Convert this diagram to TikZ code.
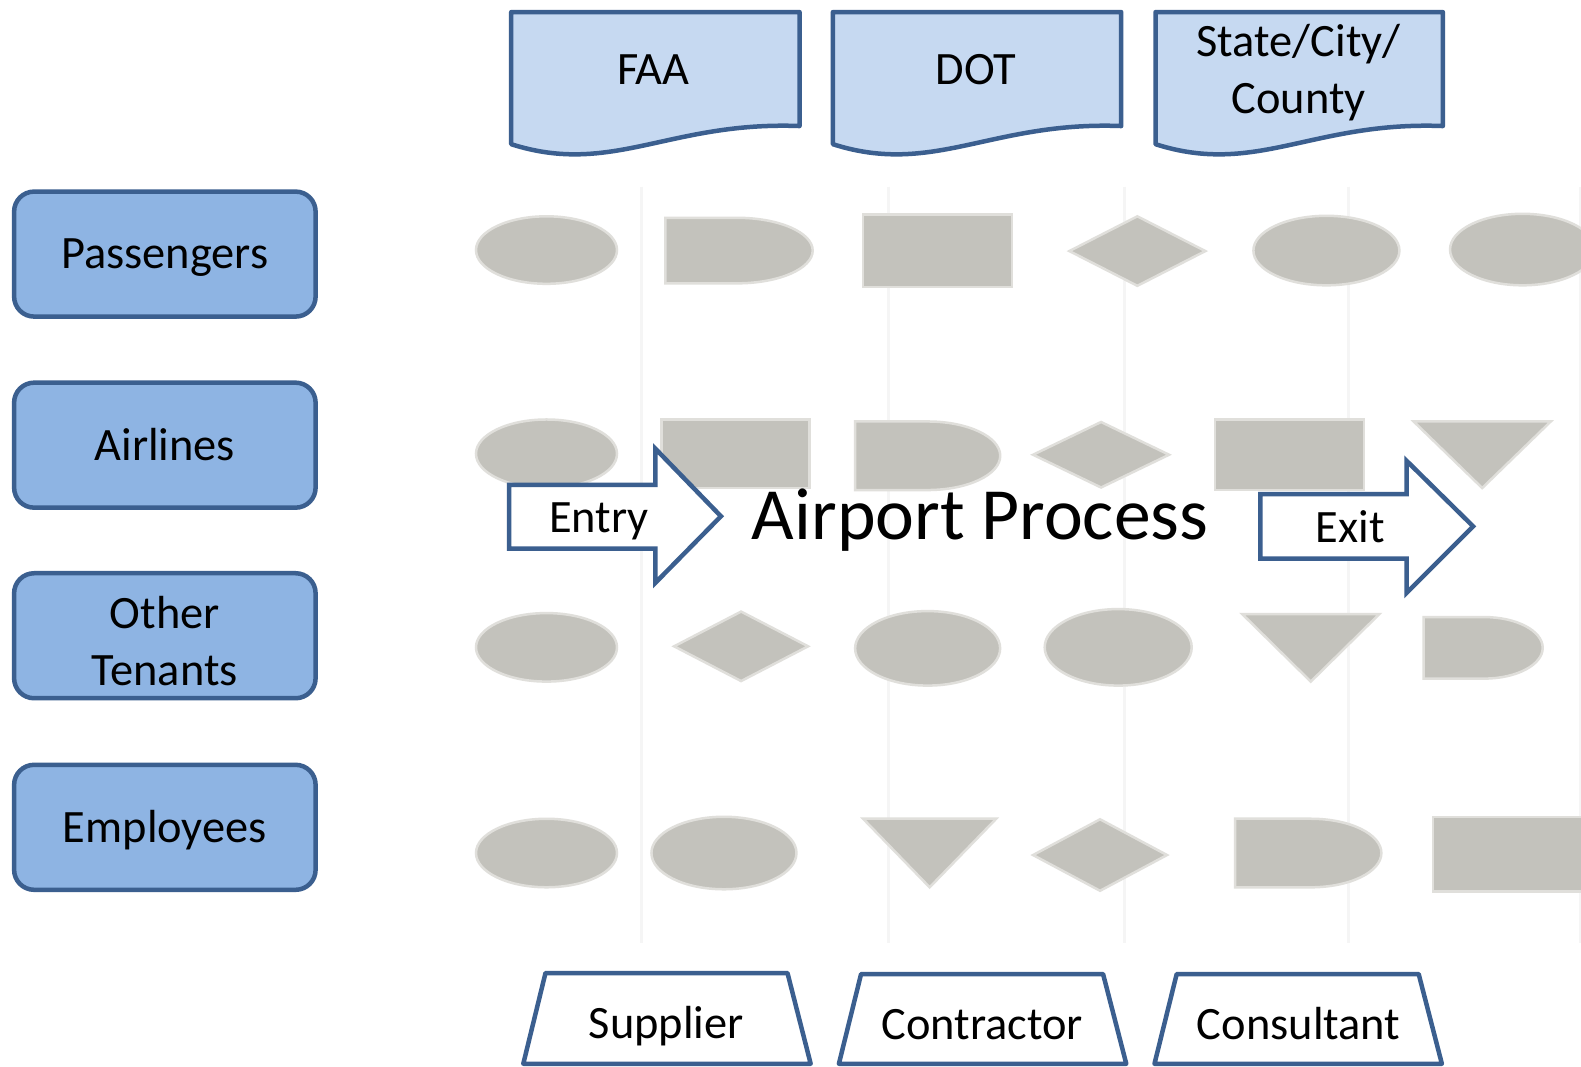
\documentclass[tikz,border=0pt]{standalone}
\usepackage{fontspec}
\setmainfont{Carlito}
\usetikzlibrary{shapes.geometric,shapes.misc}
\definecolor{edgeblue}{HTML}{3B5F8F}
\definecolor{actorfill}{HTML}{8EB4E3}
\definecolor{docfill}{HTML}{C6D9F1}
\definecolor{shapegray}{HTML}{C3C2BC}
\definecolor{shapehalo}{HTML}{E0DFDB}
\definecolor{gridfaint}{HTML}{F5F5F5}
% D-shaped (delay) symbol: name, left x, right x, top y, bottom y, x radius of round end
\newcommand\DeeShape[6]{%
  \filldraw[dshapesty] (#2,#4) -- ({#3-#6},#4)
    .. controls ({#3-0.448*#6},#4) and (#3,{#4+0.224*(#5-#4)}) .. (#3,{0.5*(#4+#5)})
    .. controls (#3,{#5-0.224*(#5-#4)}) and ({#3-0.448*#6},#5) .. ({#3-#6},#5)
    -- (#2,#5) -- cycle;
  \coordinate (#1) at ({0.5*(#2+#3)},{0.5*(#4+#5)});}
\begin{document}
\begin{tikzpicture}[x=1.0083pt,y=-1.0083pt,
  txt/.style={inner sep=0pt, font=\fontsize{46.4}{57.5}\selectfont, align=center},
  oneline/.style={txt, text height=29.8pt, text depth=0pt},
  actor/.style={draw=edgeblue, line width=4.5pt, fill=actorfill, rounded corners=20pt,
    minimum width=301.5pt, minimum height=125pt, txt},
  docshape/.style={draw=edgeblue, line width=4.5pt, fill=docfill, line join=round},
  trap/.style={draw=edgeblue, line width=4.5pt, fill=white, line join=round},
  blockarrow/.style={draw=edgeblue, line width=4.5pt, fill=white, line join=miter},
  gshape/.style={fill=shapegray, draw=shapehalo, line width=2.5pt, inner sep=0pt},
  dshapesty/.style={fill=shapegray, draw=shapehalo, line width=2.5pt},
  gell/.style={gshape, ellipse},
  grect/.style={gshape, rectangle},
  gdia/.style={gshape, diamond},
  faint/.style={draw=gridfaint, line width=3pt}
]
\useasboundingbox (0,0) rectangle (1568,1058.2);
\fill[white] (0,0) rectangle (1568,1058.2);

% faint background grid
\foreach \gx in {636,881,1115,1337,1567} {
  \draw[faint] (\gx,185) -- (\gx,935);
}

% ---------- grey process shapes ----------
% row 1
\node[gell, minimum width=141pt, minimum height=67.5pt] (r1a) at (542,248) {};
\DeeShape{r1b}{660}{806}{216}{281}{75}
\node[grect, minimum width=149pt, minimum height=72.5pt] (r1c) at (930,248.5) {};
\node[gdia, minimum width=137pt, minimum height=70.5pt] (r1d) at (1128,249) {};
\node[gell, minimum width=146pt, minimum height=69.5pt] (r1e) at (1315.5,248.5) {};
\node[gell, minimum width=145pt, minimum height=71.5pt] (r1f) at (1510,247.5) {};
% row 2
\node[gell, minimum width=141pt, minimum height=68.5pt] (r2a) at (542,450) {};
\node[grect, minimum width=148pt, minimum height=68.5pt] (r2b) at (729.5,450) {};
\DeeShape{r2c}{848}{992}{418}{486}{72}
\node[gdia, minimum width=137pt, minimum height=66.5pt] (r2d) at (1092,451) {};
\node[grect, minimum width=149pt, minimum height=70.5pt] (r2e) at (1279,451) {};
\filldraw[dshapesty] (1402,418) -- (1538,418) -- (1470,484) -- cycle;
% row 3
\node[gell, minimum width=141pt, minimum height=68.5pt] (r3a) at (542,642) {};
\node[gdia, minimum width=135pt, minimum height=70.5pt] (r3b) at (735,641) {};
\node[gell, minimum width=145pt, minimum height=74.5pt] (r3c) at (920,643) {};
\node[gell, minimum width=147pt, minimum height=76.5pt] (r3d) at (1109,642) {};
\filldraw[dshapesty] (1232,609) -- (1368,609) -- (1300,676) -- cycle;
\DeeShape{r3f}{1412}{1530}{612}{673}{58}
% row 4
\node[gell, minimum width=141pt, minimum height=68.5pt] (r4a) at (542,846) {};
\node[gell, minimum width=145pt, minimum height=72.5pt] (r4b) at (718,846) {};
\filldraw[dshapesty] (856,812) -- (988,812) -- (922,880) -- cycle;
\node[gdia, minimum width=135pt, minimum height=72.5pt] (r4d) at (1091,848) {};
\DeeShape{r4e}{1225}{1370}{812}{880}{70}
\node[grect, minimum width=165pt, minimum height=74.5pt] (r4f) at (1503,847) {};

% ---------- stakeholders (left) ----------
\node[actor, text height=29.8pt, text depth=0pt] (pass) at (163.5,252) {Passengers};
\node[actor, text height=29.8pt, text depth=0pt] (airl) at (163.5,441.5) {Airlines};
\node[actor] (tenants) at (163.5,630.5) {};
\node[txt] (tenantslbl) at (163.5,636) {Other\\Tenants};
\node[actor, text height=29.8pt, text depth=0pt] (empl) at (163.5,820.5) {Employees};

% ---------- regulators (top, document shapes) ----------
\draw[docshape] (507,12) -- (793,12) -- (793,125)
  .. controls (664,120) and (607,175) .. (507,143) -- cycle;
\node[oneline] (faa) at (648,69) {FAA};
\draw[docshape] (826,12) -- (1112,12) -- (1112,125)
  .. controls (983,120) and (926,175) .. (826,143) -- cycle;
\node[oneline] (dot) at (968,69) {DOT};
\draw[docshape] (1146,12) -- (1431,12) -- (1431,125)
  .. controls (1302,120) and (1246,175) .. (1146,143) -- cycle;
\node[txt] (state) at (1288,72) {State/City/\\County};

% ---------- entry / exit arrows ----------
\draw[blockarrow] (505,481) -- (650,481) -- (650,445) -- (715,512) -- (650,578)
  -- (650,544) -- (505,544) -- cycle;
\node[oneline] (entry) at (594,513) {Entry};
\node[inner sep=0pt, font=\fontsize{73.6}{80}\selectfont, text height=47.4pt, text depth=0pt]
  (proc) at (972,512) {Airport Process};
\draw[blockarrow] (1250,490) -- (1395,490) -- (1395,457) -- (1461,522) -- (1395,588)
  -- (1395,554) -- (1250,554) -- cycle;
\node[oneline] (exit) at (1339,523) {Exit};

% ---------- suppliers (bottom, trapezoids) ----------
\draw[trap] (519,1055) -- (541,965) -- (781,965) -- (804,1055) -- cycle;
\node[oneline] (supp) at (661,1015) {Supplier};
\draw[trap] (832,1055) -- (854,966) -- (1094,966) -- (1117,1055) -- cycle;
\node[oneline] (contr) at (974,1016) {Contractor};
\draw[trap] (1145,1055) -- (1167,966) -- (1407,966) -- (1430,1055) -- cycle;
\node[oneline] (cons) at (1288,1016) {Consultant};
\end{tikzpicture}
\end{document}
